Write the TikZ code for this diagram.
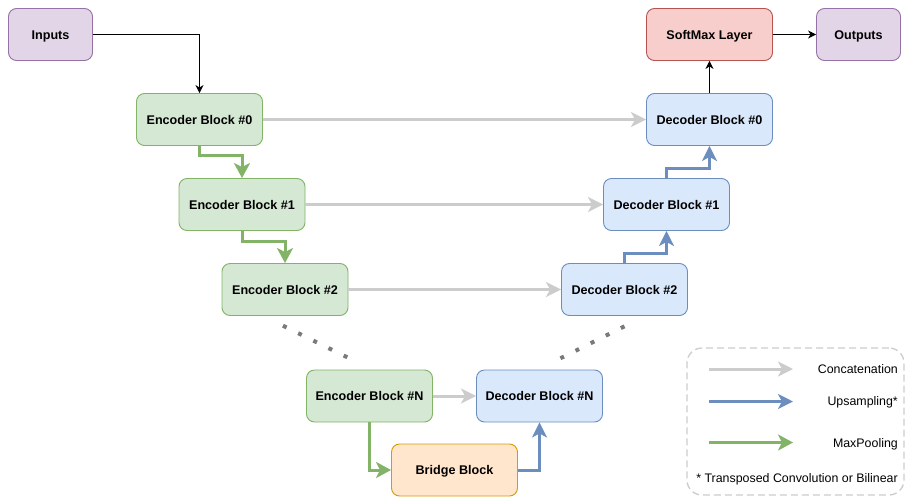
\documentclass[tikz,border=0pt]{standalone}
\usepackage{fontspec}
\setmainfont{Liberation Sans}
\usetikzlibrary{arrows.meta}

\definecolor{grnF}{HTML}{D5E8D4}\definecolor{grnD}{HTML}{82B366}
\definecolor{bluF}{HTML}{DAE8FC}\definecolor{bluD}{HTML}{6C8EBF}
\definecolor{purF}{HTML}{E1D5E7}\definecolor{purD}{HTML}{9673A6}
\definecolor{redF}{HTML}{F8CECC}\definecolor{redD}{HTML}{B85450}
\definecolor{orgF}{HTML}{FFE6CC}\definecolor{orgD}{HTML}{D79B00}
\definecolor{catC}{HTML}{CCCCCC}
\definecolor{dotC}{HTML}{7A7A7A}

\tikzset{
  blockbox/.style={draw, rounded corners=8pt, line width=0.9pt, inner sep=0pt,
    minimum height=52pt, text height=9pt, text depth=0pt,
    font=\fontsize{12.6}{14}\selectfont\bfseries},
  wide/.style={minimum width=126pt},
  narrow/.style={minimum width=84pt},
  encbox/.style={blockbox, wide, fill=grnF, draw=grnD},
  decbox/.style={blockbox, wide, fill=bluF, draw=bluD},
  iobox/.style={blockbox, narrow, fill=purF, draw=purD},
  smbox/.style={blockbox, wide, fill=redF, draw=redD},
  brbox/.style={blockbox, wide, fill=orgF, draw=orgD},
  blk/.style={draw=black, line width=0.9pt, -{Stealth[length=8pt,width=8pt,inset=2.5pt]}},
  concat/.style={draw=catC, line width=3pt, -{Stealth[length=15pt,width=15pt,inset=4pt]}},
  upsamp/.style={draw=bluD, line width=3pt, -{Stealth[length=15pt,width=15pt,inset=4pt]}},
  pool/.style={draw=grnD, line width=3pt, -{Stealth[length=15pt,width=16pt,inset=4pt]}},
  dotline/.style={draw=dotC, line width=4pt, dash pattern=on 4pt off 12.9pt},
  legtext/.style={font=\fontsize{12.4}{14}\selectfont, inner sep=0pt, anchor=east,
    text height=9pt, text depth=0pt},
}

\begin{document}
\begin{tikzpicture}[x=1pt, y=-1pt]
\useasboundingbox (0,0) rectangle (907,498);

% blocks
\node[iobox]  (in)  at (50.5,34.5)  {Inputs};
\node[smbox]  (sm)  at (709.5,34.5) {SoftMax Layer};
\node[iobox]  (out) at (858.5,34.5) {Outputs};

\node[encbox] (e0) at (199.5,119.5) {Encoder Block \#0};
\node[encbox] (e1) at (242,204.5)   {Encoder Block \#1};
\node[encbox] (e2) at (285,289.5)   {Encoder Block \#2};
\node[encbox] (eN) at (369.5,396)   {Encoder Block \#N};

\node[decbox] (d0) at (709.5,119.5) {Decoder Block \#0};
\node[decbox] (d1) at (666.5,204.5) {Decoder Block \#1};
\node[decbox] (d2) at (624.5,289.5) {Decoder Block \#2};
\node[decbox] (dN) at (539.5,396)   {Decoder Block \#N};

\node[brbox]  (br) at (454.5,470)   {Bridge Block};

% input and output flow
\draw[blk] (in.east) -| (e0.north);
\draw[blk] (d0.north) -- (sm.south);
\draw[blk] (sm.east) -- (out.west);

% skip connections
\draw[concat] (e0.east) -- (d0.west);
\draw[concat] (e1.east) -- (d1.west);
\draw[concat] (e2.east) -- (d2.west);
\draw[concat] (eN.east) -- (dN.west);

% downsampling path
\draw[pool] (e0.south) -- ++(0,10) -| (e1.north);
\draw[pool] (e1.south) -- ++(0,10.5) -| (e2.north);
\draw[pool] (eN.south) |- (br.west);

% upsampling path
\draw[upsamp] (br.east) -| (dN.south);
\draw[upsamp] (d2.north) -- ++(0,-10) -| (d1.south);
\draw[upsamp] (d1.north) -- ++(0,-10) -| (d0.south);

% omitted levels
\coordinate (ldA) at (283,325.7);
\coordinate (ldB) at (350,358.6);
\coordinate (rdA) at (560.4,358.3);
\coordinate (rdB) at (626,325.6);
\draw[dotline] (ldA) -- (ldB);
\draw[dotline] (rdA) -- (rdB);

% legend
\node[draw=catC, line width=1.3pt, dash pattern=on 7pt off 4pt, rounded corners=15pt,
      minimum width=217pt, minimum height=147pt, inner sep=0pt] (leg) at (795.5,421.5) {};
\coordinate (la1) at (709,369);   \coordinate (lb1) at (793,369);
\coordinate (la2) at (709,401.5); \coordinate (lb2) at (793,401.5);
\coordinate (la3) at (709,442.5); \coordinate (lb3) at (793,442.5);
\draw[concat] (la1) -- (lb1);
\draw[upsamp] (la2) -- (lb2);
\draw[pool]   (la3) -- (lb3);
\node[legtext] (t1) at (898,369)   {Concatenation};
\node[legtext] (t2) at (898,401)   {Upsampling*};
\node[legtext] (t3) at (898,442.5) {MaxPooling};
\node[legtext] (t4) at (898,478)   {* Transposed Convolution or Bilinear};
\end{tikzpicture}
\end{document}
